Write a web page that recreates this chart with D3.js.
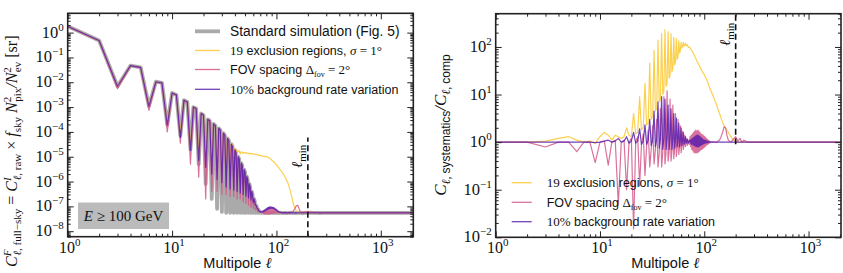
<!DOCTYPE html>
<html>
<head>
<meta charset="utf-8">
<script src="https://cdn.jsdelivr.net/npm/d3@7"></script>
<style>
body { margin: 0; background: #fff; }
svg { display: block; }
</style>
</head>
<body>
<svg class="chart"></svg>
<script>
var width = 843,
    height = 273

// multipoles
var ellLow = d3.range(1, 73)
var ellMid = d3.range(73, 116)
var ellHigh = [120, 125, 130, 135, 140, 145, 150, 155, 160, 165, 170, 180, 190, 200, 210, 220, 230, 240, 260, 280, 300, 400, 600, 1000, 1500, 2048]
var lmin = 200

// left panel: C_l full-sky
var stdLow = [1.8, 0.48, 6.9e-3, 4.7e-2, 4.0e-2, 1.1e-3, 1.05e-2, 9.5e-3, 1.9e-4, 3.7e-3,
    3.1e-3, 7e-5, 1.9e-3, 1.6e-3, 2e-5, 1.0e-3, 8.8e-4, 5e-6, 5.5e-4, 4.8e-4,
    8e-7, 3.2e-4, 2.8e-4, 2e-7, 2.1e-4, 1.8e-4, 8e-8, 1.4e-4, 1.2e-4, 6e-8,
    9e-5, 7.5e-5, 5.5e-8, 5.5e-5, 4.5e-5, 5.5e-8, 3.2e-5, 2.6e-5, 5.5e-8, 1.9e-5,
    1.5e-5, 5.5e-8, 1.0e-5, 8e-6, 5.5e-8, 5.5e-6, 4.4e-6, 5.5e-8, 3e-6, 2.4e-6,
    5.5e-8, 1.6e-6, 1.2e-6, 5.5e-8, 8e-7, 6e-7, 5.5e-8, 4e-7, 3e-7, 5.5e-8,
    2e-7, 1.6e-7, 5.5e-8, 1.1e-7, 9e-8, 5.5e-8, 7.5e-8, 6.5e-8, 5.5e-8, 6e-8,
    5.8e-8, 5.5e-8]
var exclLow = [1.8, 0.48, 7e-3, 4.7e-2, 4.0e-2, 1.2e-3, 1.05e-2, 9.5e-3, 2e-4, 3.7e-3,
    3.1e-3, 9e-5, 1.9e-3, 1.6e-3, 2.5e-5, 1.0e-3, 8.8e-4, 1.2e-5, 5.5e-4, 4.8e-4,
    6e-6, 3.2e-4, 2.8e-4, 5e-6, 2.1e-4, 1.8e-4, 4e-6, 1.4e-4, 1.2e-4, 4e-6,
    9.2e-5, 7.8e-5, 5e-6, 5.8e-5, 4.8e-5, 8e-6, 3.4e-5, 2.9e-5, 1e-5, 2.2e-5,
    1.9e-5, 1.2e-5, 1.8e-5, 1.7e-5, 1.3e-5, 1.6e-5, 1.55e-5, 1.35e-5, 1.5e-5, 1.45e-5,
    1.35e-5, 1.45e-5, 1.4e-5, 1.3e-5, 1.4e-5, 1.35e-5, 1.3e-5, 1.35e-5, 1.3e-5, 1.25e-5,
    1.3e-5, 1.25e-5, 1.2e-5, 1.25e-5, 1.2e-5, 1.15e-5, 1.2e-5, 1.15e-5, 1.1e-5, 1.15e-5,
    1.1e-5, 1.08e-5]
var fovLow = [1.75, 0.47, 5.5e-3, 4.6e-2, 3.9e-2, 7.4e-4, 1.0e-2, 9.2e-3, 1e-4, 3.6e-3,
    3.0e-3, 3.5e-5, 1.85e-3, 1.55e-3, 5e-6, 9.7e-4, 8.6e-4, 1.5e-6, 5.4e-4, 4.7e-4,
    2e-7, 3.1e-4, 2.75e-4, 4e-7, 2.05e-4, 1.75e-4, 4e-7, 1.35e-4, 1.15e-4, 3e-7,
    8.8e-5, 7.3e-5, 3e-7, 5.4e-5, 4.4e-5, 2.5e-7, 3.1e-5, 2.5e-5, 2.5e-7, 1.85e-5,
    1.45e-5, 2e-7, 9.7e-6, 7.8e-6, 2e-7, 5.3e-6, 4.3e-6, 1.5e-7, 2.9e-6, 2.3e-6,
    1.3e-7, 1.55e-6, 1.15e-6, 1.1e-7, 7.7e-7, 5.8e-7, 9e-8, 3.9e-7, 2.9e-7, 8e-8,
    1.9e-7, 1.5e-7, 7e-8, 1.05e-7, 8.5e-8, 6e-8, 7.2e-8, 6.3e-8, 6e-8, 5.9e-8,
    5.7e-8, 5.8e-8]
var bkgLow = [1.8, 0.48, 6.9e-3, 4.7e-2, 4.0e-2, 1.1e-3, 1.05e-2, 9.5e-3, 1.9e-4, 3.7e-3,
    3.1e-3, 6e-5, 1.9e-3, 1.6e-3, 1.8e-5, 1.0e-3, 8.8e-4, 7e-6, 5.5e-4, 4.8e-4,
    3.7e-6, 3.2e-4, 2.8e-4, 2e-6, 2.1e-4, 1.8e-4, 1.2e-6, 1.4e-4, 1.2e-4, 9e-7,
    9e-5, 7.5e-5, 6e-7, 5.5e-5, 4.5e-5, 5e-7, 3.2e-5, 2.6e-5, 4.5e-7, 1.9e-5,
    1.5e-5, 4e-7, 1.0e-5, 8e-6, 3.5e-7, 5.5e-6, 4.4e-6, 3e-7, 3e-6, 2.4e-6,
    2.6e-7, 1.6e-6, 1.2e-6, 2.2e-7, 8e-7, 6e-7, 1.8e-7, 4e-7, 3e-7, 1.4e-7,
    2e-7, 1.6e-7, 1.1e-7, 1.1e-7, 9e-8, 8e-8, 7.5e-8, 6.5e-8, 6.5e-8, 6e-8,
    5.8e-8, 6e-8]

var stdMid = [5.5e-8, 5.6e-8, 5.5e-8, 5.4e-8, 5.5e-8, 5.6e-8, 5.5e-8, 5.5e-8, 5.4e-8, 5.5e-8,
    5.6e-8, 5.5e-8, 5.5e-8, 5.4e-8, 5.5e-8, 5.6e-8, 5.5e-8, 5.5e-8, 5.4e-8, 5.5e-8,
    5.5e-8, 5.6e-8, 5.5e-8, 5.4e-8, 5.5e-8, 5.5e-8, 5.6e-8, 5.5e-8, 5.4e-8, 5.5e-8,
    5.5e-8, 5.6e-8, 5.5e-8, 5.5e-8, 5.4e-8, 5.5e-8, 5.5e-8, 5.6e-8, 5.5e-8, 5.5e-8,
    5.4e-8, 5.5e-8, 5.5e-8]
var exclMid = [1.07e-5, 1.04e-5, 1.06e-5, 1.03e-5, 1.04e-5, 1.01e-5, 1.03e-5, 1.0e-5, 1.01e-5, 9.7e-6,
    9.6e-6, 9.2e-6, 9.1e-6, 8.6e-6, 8.5e-6, 7.9e-6, 7.8e-6, 7.3e-6, 7.1e-6, 6.7e-6,
    6.6e-6, 6.2e-6, 6.1e-6, 5.6e-6, 5.5e-6, 5.0e-6, 5.0e-6, 4.6e-6, 4.5e-6, 4.2e-6,
    4.1e-6, 3.8e-6, 3.7e-6, 3.4e-6, 3.3e-6, 3.1e-6, 3.0e-6, 2.8e-6, 2.7e-6, 2.5e-6,
    2.4e-6, 2.3e-6, 2.2e-6]
var fovMid = [5.8e-8, 6.5e-8, 5.2e-8, 7e-8, 5e-8, 7.5e-8, 5e-8, 8e-8, 5e-8, 8.5e-8,
    5e-8, 8.8e-8, 5e-8, 9e-8, 5e-8, 9e-8, 5.2e-8, 8.8e-8, 5.2e-8, 8.5e-8,
    5.3e-8, 8e-8, 5.3e-8, 7.5e-8, 5.4e-8, 7e-8, 5.4e-8, 6.5e-8, 5.4e-8, 6.2e-8,
    5.5e-8, 6e-8, 5.5e-8, 5.8e-8, 5.5e-8, 5.7e-8, 5.5e-8, 5.6e-8, 5.5e-8, 5.5e-8,
    5.5e-8, 5.5e-8, 5.5e-8]
var bkgMid = [6e-8, 6.3e-8, 6e-8, 6.8e-8, 6.3e-8, 7.5e-8, 6.8e-8, 8e-8, 7.2e-8, 8.8e-8,
    7.6e-8, 9.2e-8, 8e-8, 9.5e-8, 8.2e-8, 9.6e-8, 8.4e-8, 9.4e-8, 8.3e-8, 9.2e-8,
    8.1e-8, 8.9e-8, 7.8e-8, 8.5e-8, 7.4e-8, 8e-8, 7e-8, 7.5e-8, 6.7e-8, 7e-8,
    6.3e-8, 6.5e-8, 6e-8, 6.1e-8, 5.8e-8, 5.9e-8, 5.7e-8, 5.7e-8, 5.6e-8, 5.6e-8,
    5.5e-8, 5.5e-8, 5.5e-8]

var stdHigh = [5.5e-8, 5.4e-8, 5.5e-8, 5.6e-8, 5.5e-8, 5.5e-8, 5.4e-8, 5.5e-8, 5.6e-8, 5.5e-8,
    5.5e-8, 5.4e-8, 5.5e-8, 5.5e-8, 5.6e-8, 5.5e-8, 5.5e-8, 5.5e-8, 5.4e-8, 5.5e-8,
    5.5e-8, 5.5e-8, 5.5e-8, 5.5e-8, 5.5e-8, 5.5e-8]
var exclHigh = [1.6e-6, 1.15e-6, 8e-7, 4.5e-7, 2.6e-7, 1.3e-7, 8.5e-8, 6.5e-8, 5.8e-8, 5.6e-8,
    5.5e-8, 5.5e-8, 5.5e-8, 5.5e-8, 5.5e-8, 5.5e-8, 5.5e-8, 5.5e-8, 5.5e-8, 5.5e-8,
    5.5e-8, 5.5e-8, 5.5e-8, 5.5e-8, 5.5e-8, 5.5e-8]
var fovHigh = [5.6e-8, 5.5e-8, 5.6e-8, 5.5e-8, 5.7e-8, 6.5e-8, 8e-8, 1.05e-7, 1.1e-7, 8e-8,
    6e-8, 5.6e-8, 6e-8, 6.3e-8, 5.6e-8, 6e-8, 5.5e-8, 5.8e-8, 5.5e-8, 5.5e-8,
    5.5e-8, 5.5e-8, 5.5e-8, 5.5e-8, 5.5e-8, 5.5e-8]
var bkgHigh = [5.6e-8, 5.5e-8, 5.5e-8, 5.6e-8, 5.5e-8, 5.5e-8, 5.5e-8, 5.6e-8, 5.5e-8, 5.5e-8,
    5.5e-8, 5.5e-8, 5.5e-8, 5.5e-8, 5.5e-8, 5.5e-8, 5.5e-8, 5.5e-8, 5.5e-8, 5.5e-8,
    5.5e-8, 5.5e-8, 5.5e-8, 5.5e-8, 5.5e-8, 5.5e-8]

// right panel: ratio to comparison
var exclRatioLow = [1.0, 1.0, 1.05, 1.2, 1.3, 1.1, 1.0, 1.05, 0.95, 1.3,
    1.6, 1.4, 1.1, 1.4, 1.3, 1.2, 1.3, 2.0, 1.4, 1.3,
    4, 1.5, 1.6, 9, 1.8, 2.0, 17, 2.3, 2.5, 46,
    3, 3.5, 85, 4.5, 5, 140, 7, 8, 190, 10,
    12, 230, 15, 17, 210, 22, 25, 190, 30, 35,
    160, 42, 48, 150, 55, 62, 135, 75, 82, 125,
    95, 100, 125, 105, 108, 120, 108, 106, 112, 100,
    98, 100]
var fovRatioLow = [1.0, 1.0, 0.79, 1.0, 1.0, 0.63, 1.0, 1.0, 0.37, 1.0,
    1.05, 0.33, 1.0, 1.1, 0.048, 1.0, 1.1, 0.1, 1.0, 1.2,
    0.015, 1.0, 1.3, 0.12, 0.9, 1.5, 0.2, 0.8, 1.8, 0.3,
    0.7, 2.2, 0.35, 0.7, 3, 0.3, 0.6, 5, 0.3, 0.6,
    9, 0.35, 0.6, 12, 0.4, 0.6, 8, 0.4, 0.65, 6,
    0.45, 0.7, 4, 0.5, 0.75, 3, 0.55, 0.8, 2.2, 0.6,
    0.85, 1.7, 0.7, 0.9, 1.4, 0.8, 0.95, 1.2, 0.85, 1.0,
    1.1, 0.9]
var bkgRatioLow = [1.0, 1.0, 1.0, 1.0, 1.0, 1.0, 1.0, 1.0, 0.98, 1.0,
    1.05, 1.1, 1.0, 1.05, 1.2, 1.0, 1.05, 1.3, 0.95, 1.05,
    1.6, 0.95, 1.05, 1.9, 0.9, 1.05, 2.3, 0.9, 1.1, 3,
    0.85, 1.1, 4.5, 0.8, 1.15, 7, 0.75, 1.2, 9, 0.7,
    1.2, 8, 0.7, 1.25, 6, 0.7, 1.25, 5, 0.7, 1.2,
    4, 0.75, 1.2, 3.2, 0.8, 1.15, 2.5, 0.8, 1.1, 2,
    0.85, 1.1, 1.6, 0.9, 1.05, 1.3, 0.95, 1.05, 1.15, 0.95,
    1.0, 1.05]

var exclRatioMid = [95, 92, 88, 84, 80, 76, 72, 68, 64, 60,
    57, 54, 51, 48, 46, 44, 42, 40, 38, 36,
    34, 33, 31, 30, 29, 28, 27, 26, 25, 24,
    23, 22, 21, 20, 19, 18, 17, 16, 15, 14,
    13.5, 13, 12.5]
var fovRatioMid = [1.3, 0.8, 1.4, 0.7, 1.5, 0.65, 1.6, 0.6, 1.7, 0.6,
    1.8, 0.6, 1.7, 0.6, 1.8, 0.62, 1.7, 0.65, 1.6, 0.68,
    1.5, 0.7, 1.45, 0.72, 1.4, 0.75, 1.35, 0.78, 1.3, 0.8,
    1.25, 0.85, 1.2, 0.88, 1.15, 0.9, 1.1, 0.93, 1.07, 0.95,
    1.05, 0.97, 1.03]
var bkgRatioMid = [1.1, 0.95, 1.15, 0.9, 1.2, 0.88, 1.25, 0.85, 1.3, 0.82,
    1.35, 0.8, 1.4, 0.8, 1.4, 0.8, 1.35, 0.82, 1.3, 0.85,
    1.25, 0.87, 1.2, 0.9, 1.15, 0.92, 1.12, 0.94, 1.1, 0.95,
    1.08, 0.96, 1.06, 0.97, 1.05, 0.98, 1.03, 0.99, 1.02, 1.0,
    1.01, 1.0, 1.0]

var exclRatioHigh = [10, 8, 6.5, 5, 4, 3.2, 2.6, 2.2, 2.0, 1.8,
    1.6, 1.3, 1.1, 1.05, 1.0, 1.0, 1.0, 1.0, 1.0, 1.0,
    1.0, 1.0, 1.0, 1.0, 1.0, 1.0]
var fovRatioHigh = [1.0, 1.02, 0.98, 1.05, 1.1, 1.3, 1.6, 2.1, 2.0, 1.4,
    1.1, 1.0, 1.15, 1.3, 1.05, 1.2, 1.0, 1.1, 1.0, 1.0,
    1.0, 1.0, 1.0, 1.0, 1.0, 1.0]
var bkgRatioHigh = [1.0, 1.0, 1.0, 1.0, 1.0, 1.0, 1.0, 1.0, 1.0, 1.0,
    1.0, 1.0, 1.0, 1.0, 1.0, 1.0, 1.0, 1.0, 1.0, 1.0,
    1.0, 1.0, 1.0, 1.0, 1.0, 1.0]

var xDomain = [1, 2048]
var colors = { std: "#9b9b9b", excl: "#fccb3c", fov: "#d3588b", bkg: "#5b20ad" }
var serif = "'Liberation Serif', 'DejaVu Serif', serif",
    sans = "'Liberation Sans', 'DejaVu Sans', sans-serif"

var ell = ellLow.concat(ellMid, ellHigh)

var chart = d3.select(".chart")
    .attr("width", width)
    .attr("height", height)

function isPow(v) {
    var l = Math.log10(v)
    return Math.abs(l - Math.round(l)) < 1e-9
}

// "10" with a superscript exponent
function powLabel(sel, e) {
    sel.append("tspan").text("10")
    sel.append("tspan")
        .attr("dy", -7)
        .attr("font-size", 11)
        .text(e < 0 ? "\u2212" + (-e) : e)
}

// rich text built from [text, options] pieces
function richText(sel, parts) {
    parts.forEach(function (p) {
        var o = p[1] || {}
        var t = sel.append("tspan").text(p[0])
        if (o.dx) t.attr("dx", o.dx)
        if (o.dy) t.attr("dy", o.dy)
        if (o.size) t.attr("font-size", o.size)
        if (o.it) t.attr("font-style", "italic")
        if (o.sans) t.attr("font-family", sans)
    })
}

function drawPanel(p) {
    var x = d3.scaleLog().domain(xDomain).range([p.left, p.right])
    var y = d3.scaleLog().domain(p.yDomain).range([p.bottom, p.top])
    var g = chart.append("g")

    g.append("clipPath").attr("id", p.id + "-clip")
        .append("rect")
        .attr("x", p.left).attr("y", p.top)
        .attr("width", p.right - p.left).attr("height", p.bottom - p.top)

    var line = d3.line()
        .x((d, i) => x(ell[i]))
        .y(d => y(d))

    g.append("g")
        .attr("class", "lines")
        .attr("clip-path", `url(#${p.id}-clip)`)
        .attr("fill", "none")
        .attr("stroke-linejoin", "round")
        .selectAll("path")
        .data(p.series)
        .join("path")
        .attr("stroke", d => colors[d.key])
        .attr("stroke-width", d => d.width)
        .attr("stroke-opacity", d => d.opacity)
        .attr("d", d => line(d.values))

    // l_min marker
    g.append("line")
        .attr("x1", x(lmin)).attr("x2", x(lmin))
        .attr("y1", y(p.lminSpan[0])).attr("y2", y(p.lminSpan[1]))
        .attr("stroke", "#111")
        .attr("stroke-width", 1.6)
        .attr("stroke-dasharray", "6,3.5")

    var lt = g.append("text")
        .attr("transform", `translate(${x(lmin) - 6},${p.lminLabelY}) rotate(-90)`)
        .attr("font-family", serif)
        .attr("font-size", 15)
        .attr("fill", "#111")
    richText(lt, [["\u2113", { it: true }], ["min", { size: 11, dy: 4 }]])

    // ticks, pointing inwards on all four sides
    var xMajor = x.ticks().filter(isPow),
        xMinor = x.ticks().filter(v => !isPow(v)),
        yMajor = y.ticks().filter(isPow),
        yMinor = y.ticks().filter(v => !isPow(v))

    var axes = [
        [d3.axisBottom(x), p.bottom, "x", xMajor, xMinor],
        [d3.axisTop(x), p.top, "x", xMajor, xMinor],
        [d3.axisLeft(y), p.left, "y", yMajor, yMinor],
        [d3.axisRight(y), p.right, "y", yMajor, yMinor]
    ]
    axes.forEach(function (a) {
        [[a[3], 6], [a[4], 3]].forEach(function (t) {
            var ax = a[0].tickValues(t[0]).tickSize(-t[1]).tickFormat("")
            g.append("g")
                .attr("transform", a[2] === "x" ? `translate(0,${a[1]})` : `translate(${a[1]},0)`)
                .call(ax)
                .call(s => s.select(".domain").remove())
                .call(s => s.selectAll("line").attr("stroke", "#222").attr("stroke-width", 1))
        })
    })

    g.append("rect")
        .attr("x", p.left).attr("y", p.top)
        .attr("width", p.right - p.left).attr("height", p.bottom - p.top)
        .attr("fill", "none")
        .attr("stroke", "#222")
        .attr("stroke-width", 1.6)

    // tick labels
    g.selectAll(".xlab")
        .data(xMajor)
        .join("text")
        .attr("x", d => x(d) + 2)
        .attr("y", p.bottom + 16)
        .attr("text-anchor", "middle")
        .attr("font-family", serif)
        .attr("font-size", 16)
        .attr("fill", "#111")
        .each(function (d) { powLabel(d3.select(this), Math.round(Math.log10(d))) })

    g.selectAll(".ylab")
        .data(yMajor)
        .join("text")
        .attr("x", p.left - 4)
        .attr("y", d => y(d) + 5)
        .attr("text-anchor", "end")
        .attr("font-family", serif)
        .attr("font-size", 16.5)
        .attr("fill", "#111")
        .each(function (d) { powLabel(d3.select(this), Math.round(Math.log10(d))) })

    var xl = g.append("text")
        .attr("x", (p.left + p.right) / 2 - 3)
        .attr("y", p.bottom + 31)
        .attr("text-anchor", "middle")
        .attr("font-family", sans)
        .attr("font-size", 14.5)
        .attr("fill", "#111")
    richText(xl, [["Multipole ", {}], ["\u2113", { it: true }]])
    xl.selectAll("tspan").filter((d, i) => i === 1).attr("font-family", serif).attr("font-size", 15)

    return { x: x, y: y, g: g }
}

function legend(g, x0, x1, tx, rows) {
    rows.forEach(function (r) {
        g.append("line")
            .attr("x1", x0).attr("x2", x1)
            .attr("y1", r.y).attr("y2", r.y)
            .attr("stroke", colors[r.key])
            .attr("stroke-width", r.width)
            .attr("stroke-opacity", r.opacity)
        var t = g.append("text")
            .attr("x", tx)
            .attr("y", r.y + 4.5)
            .attr("font-family", serif)
            .attr("font-size", 13)
            .attr("fill", "#111")
        richText(t, r.parts)
    })
}

var exclParts = [["19", {}], [" exclusion regions, ", { sans: true, size: 12.5 }], ["\u03c3", { it: true }], [" = 1\u00b0", {}]],
    fovParts = [["FOV spacing ", { sans: true, size: 12.5 }], ["\u0394", {}], ["fov", { size: 8, dy: 3 }], [" = 2\u00b0", { dy: -3 }]],
    bkgParts = [["10%", {}], [" background rate variation", { sans: true, size: 12.5 }]]

// left panel
var left = drawPanel({
    id: "left",
    left: 67.7, right: 413.3, top: 13.3, bottom: 236.7,
    yDomain: [6e-9, 6],
    lminSpan: [6e-9, 6e-5],
    lminLabelY: 168,
    series: [
        { key: "std", values: stdLow.concat(stdMid, stdHigh), width: 3.8, opacity: 0.85 },
        { key: "excl", values: exclLow.concat(exclMid, exclHigh), width: 1.2, opacity: 0.9 },
        { key: "fov", values: fovLow.concat(fovMid, fovHigh), width: 1.2, opacity: 0.85 },
        { key: "bkg", values: bkgLow.concat(bkgMid, bkgHigh), width: 1.2, opacity: 0.85 }
    ]
})

legend(left.g, 195, 220, 230, [
    { key: "std", y: 31.3, width: 3.8, opacity: 0.85, parts: [["Standard simulation (Fig. 5)", { sans: true, size: 13.8 }]] },
    { key: "excl", y: 50.5, width: 1.3, opacity: 0.9, parts: exclParts },
    { key: "fov", y: 69.5, width: 1.3, opacity: 0.85, parts: fovParts },
    { key: "bkg", y: 89.3, width: 1.3, opacity: 0.85, parts: bkgParts }
])

left.g.append("rect")
    .attr("x", 78).attr("y", 202.5)
    .attr("width", 91).attr("height", 26.5)
    .attr("fill", "#bbbbbb")
var et = left.g.append("text")
    .attr("x", 123.5).attr("y", 221)
    .attr("text-anchor", "middle")
    .attr("font-family", serif)
    .attr("font-size", 15)
    .attr("fill", "#111")
richText(et, [["E", { it: true }], [" \u2265 100 GeV", {}]])

var ylab = chart.append("text")
    .attr("transform", "translate(17,267) rotate(-90)")
    .attr("font-family", serif)
    .attr("font-size", 16)
    .attr("fill", "#111")
richText(ylab, [
    ["C", { it: true }], ["F", { it: true, size: 11, dy: -6 }], ["\u2113", { it: true, size: 11, dx: -6, dy: 10 }], [", full\u2212sky", { size: 11 }],
    [" = ", { dy: -4 }],
    ["C", { it: true }], ["I", { it: true, size: 11, dy: -6 }], ["\u2113", { it: true, size: 11, dx: -3, dy: 10 }], [", raw", { size: 11 }],
    [" \u00d7 ", { dy: -4 }],
    ["f", { it: true }], ["sky", { size: 11, dy: 4 }],
    [" N", { it: true, dy: -4 }], ["2", { size: 11, dy: -6 }], ["pix", { size: 11, dx: -5, dy: 10 }],
    ["/N", { it: true, dy: -4 }], ["2", { size: 11, dy: -6 }], ["ev", { size: 11, dx: -5, dy: 10 }],
    [" [sr]", { dy: -4 }]
])

// right panel
var right = drawPanel({
    id: "right",
    left: 495.7, right: 841, top: 13.7, bottom: 237.3,
    yDomain: [0.01, 500],
    lminSpan: [0.9, 500],
    lminLabelY: 46,
    series: [
        { key: "excl", values: exclRatioLow.concat(exclRatioMid, exclRatioHigh), width: 1.2, opacity: 0.9 },
        { key: "fov", values: fovRatioLow.concat(fovRatioMid, fovRatioHigh), width: 1.2, opacity: 0.85 },
        { key: "bkg", values: bkgRatioLow.concat(bkgRatioMid, bkgRatioHigh), width: 1.2, opacity: 0.85 }
    ]
})

legend(right.g, 511.7, 531.7, 546.7, [
    { key: "excl", y: 182.7, width: 1.3, opacity: 0.9, parts: exclParts },
    { key: "fov", y: 202.3, width: 1.3, opacity: 0.85, parts: fovParts },
    { key: "bkg", y: 221.7, width: 1.3, opacity: 0.85, parts: bkgParts }
])

var rlab = chart.append("text")
    .attr("transform", "translate(446,125) rotate(-90)")
    .attr("text-anchor", "middle")
    .attr("font-family", serif)
    .attr("font-size", 17)
    .attr("fill", "#111")
richText(rlab, [
    ["C", { it: true }], ["\u2113", { it: true, size: 12, dy: 4 }], [", ", { size: 12 }], ["systematics", { sans: true, size: 12 }],
    ["/C", { it: true, dy: -4 }], ["\u2113", { it: true, size: 12, dy: 4 }], [", ", { size: 12 }], ["comp", { sans: true, size: 12 }]
])
</script>
</body>
</html>
